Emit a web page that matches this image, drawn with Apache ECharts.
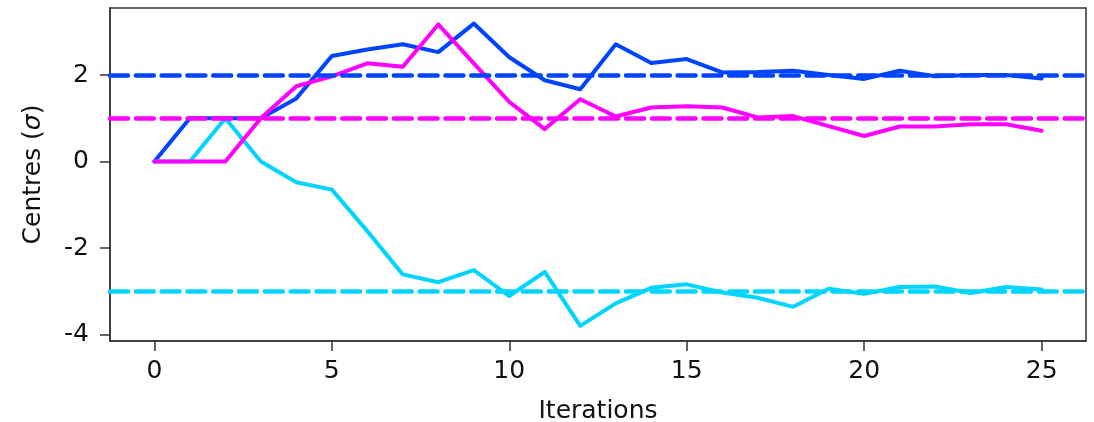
<!DOCTYPE html>
<html>
<head>
<meta charset="utf-8">
<script src="https://cdn.jsdelivr.net/npm/echarts@6/dist/echarts.min.js"></script>
<style>
html,body{margin:0;padding:0;background:#fff;}
#chart{width:1094px;height:422px;}
</style>
</head>
<body>
<div id="chart"></div>
<script>
const iterations = [0,1,2,3,4,5,6,7,8,9,10,11,12,13,14,15,16,17,18,19,20,21,22,23,24,25];
const blueCentre = [0,1.0,1.0,1.0,1.46,2.44,2.59,2.71,2.53,3.19,2.41,1.88,1.67,2.71,2.28,2.37,2.06,2.07,2.10,2.0,1.91,2.10,1.97,2.0,2.0,1.92];
const magentaCentre = [0,0,0,1.0,1.74,1.97,2.27,2.19,3.17,2.27,1.38,0.75,1.44,1.04,1.25,1.28,1.25,1.02,1.05,0.82,0.59,0.81,0.81,0.86,0.86,0.71];
const cyanCentre = [0,0,1.0,0,-0.48,-0.65,-1.61,-2.61,-2.79,-2.51,-3.11,-2.55,-3.80,-3.28,-2.92,-2.84,-3.03,-3.15,-3.36,-2.94,-3.06,-2.90,-2.89,-3.04,-2.90,-2.96];
const trueCentres = {blue: 2, magenta: 1, cyan: -3};
const xTicks = [0,5,10,15,20,25];
const yTicks = [-4,-2,0,2];

const colors = {blue:'#0044ff', magenta:'#ff00ff', cyan:'#00d5ff'};
const font = 'DejaVu Sans';
const textColor = '#111';

function pairs(ys){ return iterations.map((x,i)=>[x, ys[i]]); }
function lineSeries(name, ys, color, z){
  return {
    name, type:'line', data: pairs(ys), showSymbol:false, symbol:'none', z,
    lineStyle:{color, width:4, cap:'round', join:'round'},
    animation:false,
    markLine:{
      silent:true, symbol:'none', animation:false,
      label:{show:false},
      lineStyle:{color, width:4.5, type:[18,7.8], cap:'round'},
      data:[{yAxis: trueCentres[name]}]
    }
  };
}

const chart = echarts.init(document.getElementById('chart'), null, {renderer:'canvas'});
chart.setOption({
  animation:false,
  backgroundColor:'#ffffff',
  grid:{left:110, right:8, top:8, bottom:81, containLabel:false, outerBoundsMode:'none', show:true, borderColor:'#333', borderWidth:1.5, backgroundColor:'transparent'},
  xAxis:{
    type:'value', min:-1.25, max:26.25,
    name:'Iterations', nameLocation:'middle', nameGap:58,
    nameTextStyle:{fontFamily:font, fontSize:25, color:textColor},
    axisLine:{show:true, onZero:false, lineStyle:{color:'#333', width:1.5}},
    axisTick:{show:true, length:10, lineStyle:{color:'#333', width:1.5}, customValues:xTicks},
    axisLabel:{fontFamily:font, fontSize:25, color:textColor, margin:18, customValues:xTicks, formatter:v=>String(v)},
    splitLine:{show:false}
  },
  yAxis:{
    type:'value', min:-4.15, max:3.55,
    name:'{n|Centres (}{s|σ}{n|)}', nameLocation:'middle', nameGap:64, nameRotate:90,
    nameTextStyle:{rich:{n:{fontFamily:font, fontSize:25, color:textColor}, s:{fontFamily:font, fontSize:25, fontStyle:'italic', color:textColor}}},
    axisLine:{show:true, onZero:false, lineStyle:{color:'#333', width:1.5}},
    axisTick:{show:true, length:10, lineStyle:{color:'#333', width:1.5}, customValues:yTicks},
    axisLabel:{fontFamily:font, fontSize:25, color:textColor, margin:21, customValues:yTicks, formatter:v=>String(v)},
    splitLine:{show:false}
  },
  series:[
    lineSeries('blue', blueCentre, colors.blue, 2),
    lineSeries('cyan', cyanCentre, colors.cyan, 3),
    lineSeries('magenta', magentaCentre, colors.magenta, 4)
  ]
});
</script>
</body>
</html>
